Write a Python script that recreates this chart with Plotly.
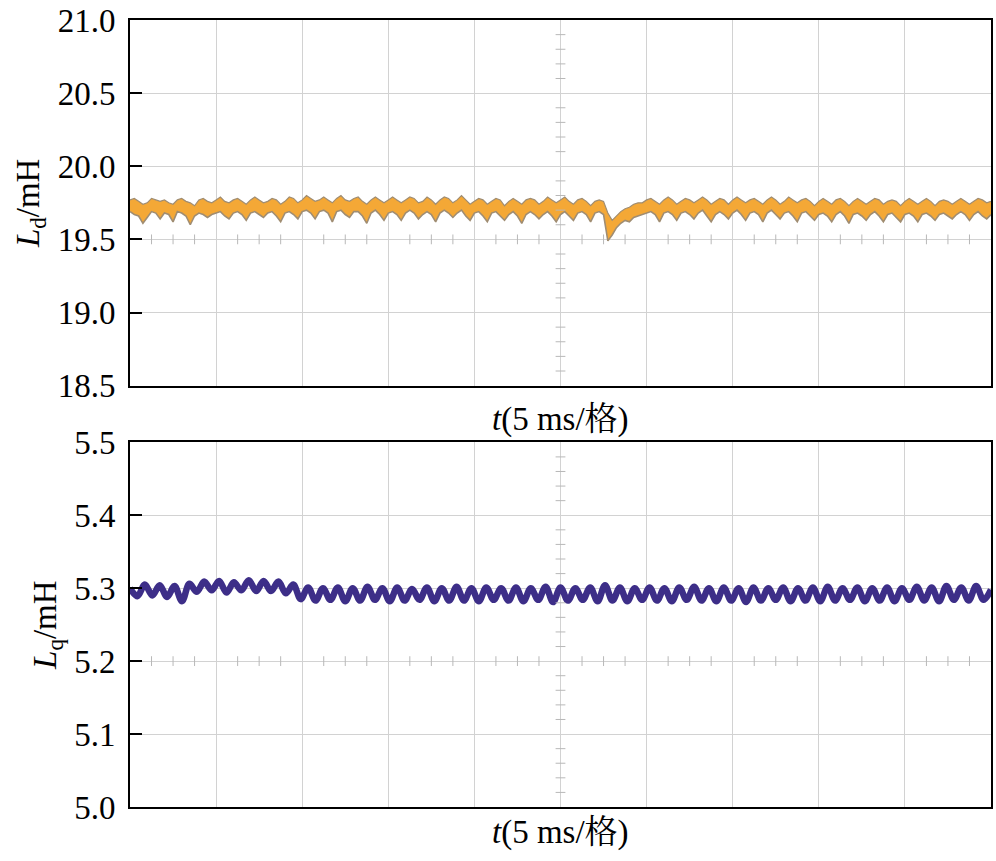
import plotly.graph_objects as go

# ---------------- data ----------------
# time base: 10 divisions x 5 ms
t_step_d = 0.25          # ms, sampling of Ld envelope
ld_upper = [
    19.77,19.78,19.76,19.74,19.75,19.78,19.77,19.76,19.77,19.75,19.74,19.77,19.78,19.76,19.75,19.73,19.77,19.78,19.76,19.75,
    19.77,19.79,19.76,19.75,19.77,19.78,19.76,19.74,19.77,19.79,19.77,19.75,19.76,19.78,19.77,19.74,19.76,19.79,19.78,19.75,
    19.77,19.80,19.78,19.76,19.77,19.79,19.77,19.75,19.78,19.80,19.77,19.76,19.78,19.79,19.76,19.74,19.77,19.79,19.77,19.75,
    19.77,19.79,19.77,19.75,19.77,19.79,19.78,19.75,19.76,19.79,19.77,19.74,19.77,19.79,19.78,19.75,19.77,19.80,19.77,19.74,
    19.76,19.78,19.77,19.74,19.76,19.78,19.77,19.73,19.76,19.78,19.76,19.74,19.77,19.78,19.77,19.74,19.76,19.79,19.77,19.75,
    19.77,19.79,19.76,19.74,19.77,19.78,19.76,19.73,19.76,19.77,19.76,19.68,19.63,19.66,19.69,19.71,19.72,19.74,19.75,19.75,
    19.77,19.78,19.76,19.74,19.77,19.79,19.77,19.74,19.76,19.78,19.77,19.75,19.77,19.79,19.77,19.74,19.76,19.78,19.77,19.74,
    19.77,19.79,19.77,19.75,19.77,19.78,19.76,19.74,19.77,19.79,19.77,19.74,19.76,19.79,19.77,19.75,19.77,19.78,19.76,19.73,
    19.76,19.78,19.76,19.74,19.77,19.78,19.76,19.73,19.76,19.78,19.76,19.74,19.76,19.78,19.77,19.74,19.76,19.77,19.76,19.73,
    19.76,19.78,19.76,19.74,19.76,19.78,19.76,19.73,19.76,19.77,19.76,19.74,19.76,19.78,19.76,19.74,19.76,19.78,19.77,19.75,
    19.76,
]
ld_lower = [
    19.69,19.67,19.66,19.61,19.65,19.69,19.68,19.64,19.68,19.67,19.62,19.69,19.68,19.66,19.60,19.66,19.68,19.67,19.65,19.67,
    19.68,19.69,19.66,19.64,19.68,19.69,19.67,19.63,19.68,19.69,19.67,19.65,19.68,19.69,19.66,19.62,19.68,19.69,19.67,19.64,
    19.69,19.70,19.68,19.64,19.69,19.70,19.68,19.62,19.69,19.70,19.67,19.65,19.69,19.69,19.66,19.61,19.68,19.70,19.67,19.63,
    19.68,19.69,19.67,19.63,19.68,19.70,19.68,19.64,19.67,19.69,19.67,19.62,19.68,19.70,19.68,19.65,19.68,19.70,19.66,19.63,
    19.68,19.69,19.66,19.62,19.68,19.69,19.66,19.63,19.67,19.69,19.66,19.61,19.67,19.69,19.67,19.64,19.67,19.69,19.66,19.62,
    19.67,19.69,19.66,19.63,19.68,19.69,19.67,19.62,19.68,19.69,19.67,19.49,19.53,19.58,19.61,19.63,19.62,19.65,19.66,19.67,
    19.68,19.69,19.67,19.62,19.68,19.69,19.67,19.63,19.68,19.69,19.67,19.64,19.68,19.70,19.66,19.62,19.67,19.69,19.67,19.64,
    19.68,19.70,19.67,19.63,19.68,19.69,19.67,19.62,19.68,19.70,19.67,19.64,19.68,19.69,19.66,19.62,19.68,19.69,19.66,19.63,
    19.67,19.68,19.66,19.62,19.67,19.69,19.66,19.61,19.67,19.68,19.66,19.63,19.67,19.69,19.66,19.62,19.67,19.68,19.65,19.62,
    19.67,19.68,19.66,19.62,19.67,19.68,19.66,19.63,19.67,19.68,19.66,19.64,19.67,19.69,19.67,19.63,19.67,19.69,19.66,19.64,
    19.67,
]
lq = [
    5.300,5.289,5.305,5.290,5.304,5.288,5.303,5.282,5.306,5.295,5.309,5.297,5.310,5.294,5.308,5.297,
    5.311,5.296,5.310,5.296,5.309,5.293,5.305,5.285,
    5.301,5.283,5.300,5.284,5.301,5.282,5.300,5.283,5.302,5.284,5.300,5.282,5.301,5.283,5.299,5.284,
    5.301,5.282,5.300,5.283,5.302,5.283,5.300,5.282,5.301,5.284,5.300,5.283,5.301,5.282,5.300,5.284,
    5.302,5.281,5.301,5.283,5.300,5.284,5.301,5.282,5.304,5.283,5.301,5.282,5.300,5.284,5.301,5.283,
    5.300,5.282,5.301,5.284,5.302,5.283,5.300,5.282,5.301,5.283,5.300,5.281,5.301,5.283,5.300,5.284,
    5.301,5.282,5.300,5.283,5.301,5.282,5.302,5.283,5.300,5.284,5.301,5.282,5.300,5.283,5.301,5.282,
    5.300,5.284,5.302,5.283,5.301,5.282,5.303,5.284,5.301,5.283,5.303,5.284,5.298,
]
t_step_q = 50 / (len(lq) - 1)   # ms, half period of the Lq ripple
t_d = [i * t_step_d for i in range(len(ld_upper))]
t_q = [i * t_step_q for i in range(len(lq))]

y1_ticks = [18.5, 19.0, 19.5, 20.0, 20.5, 21.0]
y2_ticks = [5.0, 5.1, 5.2, 5.3, 5.4, 5.5]

# ---------------- styling ----------------
SERIF = "Liberation Serif, Times New Roman, Noto Serif CJK SC, Noto Sans CJK SC, serif"
GRID = "#d2d2d2"
ORANGE = "#F4A836"
EDGE = "#a08d72"
PURPLE = "#3d2e88"
FS = 33
FT = 33

fig = go.Figure()

# Ld band
fig.add_trace(go.Scatter(x=t_d, y=ld_upper, mode="lines", line=dict(color=EDGE, width=1.2),
                         xaxis="x", yaxis="y", showlegend=False, hoverinfo="skip"))
fig.add_trace(go.Scatter(x=t_d, y=ld_lower, mode="lines", line=dict(color=EDGE, width=1.6),
                         fill="tonexty", fillcolor=ORANGE,
                         xaxis="x", yaxis="y", showlegend=False, hoverinfo="skip"))

# Lq ripple
fig.add_trace(go.Scatter(x=t_q, y=lq, mode="lines", line=dict(color=PURPLE, width=6.5, shape="spline"),
                         xaxis="x2", yaxis="y2", showlegend=False, hoverinfo="skip"))

# centre-cross minor ticks (oscilloscope graticule)
hx = [k * 1.25 for k in range(1, 40) if k % 4 != 0]
for xa, ya, yc, vlo, vstep, nsub in [("x", "y", 19.5, 18.5, 0.1, 25), ("x2", "y2", 5.2, 5.0, 0.02, 25)]:
    fig.add_trace(go.Scatter(x=hx, y=[yc] * len(hx), mode="markers",
                             marker=dict(symbol="line-ns", size=7, line=dict(color="#b8b8b8", width=1)),
                             xaxis=xa, yaxis=ya, showlegend=False, hoverinfo="skip"))
    vy = [vlo + k * vstep for k in range(1, nsub) if k % 5 != 0]
    fig.add_trace(go.Scatter(x=[25] * len(vy), y=vy, mode="markers",
                             marker=dict(symbol="line-ew", size=7, line=dict(color="#b8b8b8", width=1)),
                             xaxis=xa, yaxis=ya, showlegend=False, hoverinfo="skip"))

xcommon = dict(range=[0, 50], dtick=5, tick0=0, showgrid=True, gridcolor=GRID, gridwidth=1.3,
               showline=True, linecolor="black", linewidth=2, mirror=True,
               showticklabels=False, ticks="", zeroline=False, fixedrange=True)
ycommon = dict(showgrid=True, gridcolor=GRID, gridwidth=1.3, showline=True, linecolor="black",
               linewidth=2, mirror=True, ticks="inside", ticklen=12, tickwidth=2, tickcolor="black",
               tickfont=dict(family=SERIF, size=FS, color="black"), tickformat=".1f",
               zeroline=False, ticklabelstandoff=6)

fig.update_layout(
    width=996, height=861,
    margin=dict(l=130, r=3, t=15, b=54),
    plot_bgcolor="white", paper_bgcolor="white",
    xaxis=dict(domain=[0, 1], anchor="y", **xcommon),
    yaxis=dict(domain=[0.5354, 1], anchor="x", range=[18.5, 21.0], tickvals=y1_ticks,
               title=dict(text="<i>L</i><sub>d</sub>/mH", font=dict(family=SERIF, size=FT, color="black"),
                          standoff=8), **ycommon),
    xaxis2=dict(domain=[0, 1], anchor="y2", **xcommon),
    yaxis2=dict(domain=[0, 0.4634], anchor="x2", range=[5.0, 5.5], tickvals=y2_ticks,
                title=dict(text="<i>L</i><sub>q</sub>/mH", font=dict(family=SERIF, size=FT, color="black"),
                           standoff=8), **ycommon),
    annotations=[
        dict(text="<i>t</i>(5 ms/格)", xref="x domain", yref="y domain", x=0.5, y=-0.093,
             xanchor="center", yanchor="middle", showarrow=False,
             font=dict(family=SERIF, size=FT, color="black")),
        dict(text="<i>t</i>(5 ms/格)", xref="x2 domain", yref="y2 domain", x=0.5, y=-0.07,
             xanchor="center", yanchor="middle", showarrow=False,
             font=dict(family=SERIF, size=FT, color="black")),
    ],
)

fig.write_html("out.html")
